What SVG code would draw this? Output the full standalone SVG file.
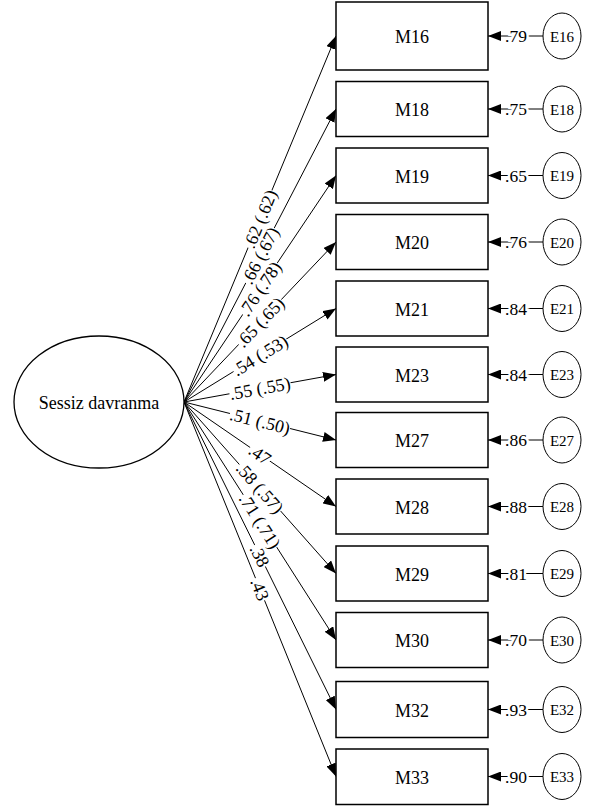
<svg xmlns="http://www.w3.org/2000/svg" width="590" height="809" viewBox="0 0 590 809">
  <defs>
    <marker id="arrow" markerUnits="userSpaceOnUse" markerWidth="13" markerHeight="10" refX="13" refY="5" orient="auto">
      <path d="M0,0 L13,5 L0,10 z" fill="#000"/>
    </marker>
    <style>
      text { font-family: "Liberation Serif", "Times New Roman", serif; fill: #000; }
      .box { fill: #fff; stroke: #000; stroke-width: 1.5; }
      .latent { fill: #fff; stroke: #000; stroke-width: 1.3; }
      .err { fill: #fff; stroke: #000; stroke-width: 1; }
      .path { stroke: #000; stroke-width: 1; fill: none; marker-end: url(#arrow); }
      .lbl { font-size: 18px; text-anchor: middle; }
      .bg { fill: #fff; }
      .coef { font-size: 18px; text-anchor: middle; }
      .ev { font-size: 17.5px; text-anchor: middle; stroke: #fff; stroke-width: 5; paint-order: stroke; }
      .elbl { font-size: 15px; text-anchor: middle; }
    </style>
  </defs>

  <!-- connectors: loadings from the factor, error terms into indicators -->
  <g id="connectors">
    <line class="path" x1="184" y1="402" x2="336" y2="36"/>
    <line class="path" x1="184" y1="402" x2="336" y2="109"/>
    <line class="path" x1="184" y1="402" x2="336" y2="175.5"/>
    <line class="path" x1="184" y1="402" x2="336" y2="242"/>
    <line class="path" x1="184" y1="402" x2="336" y2="308.5"/>
    <line class="path" x1="184" y1="402" x2="336" y2="374.5"/>
    <line class="path" x1="184" y1="402" x2="336" y2="440"/>
    <line class="path" x1="184" y1="402" x2="336" y2="506.5"/>
    <line class="path" x1="184" y1="402" x2="336" y2="573.5"/>
    <line class="path" x1="184" y1="402" x2="336" y2="640"/>
    <line class="path" x1="184" y1="402" x2="336" y2="709.5"/>
    <line class="path" x1="184" y1="402" x2="336" y2="776.5"/>

    <line class="path" x1="543" y1="36" x2="488" y2="36"/>
    <line class="path" x1="543" y1="109" x2="488" y2="109"/>
    <line class="path" x1="543" y1="175.5" x2="488" y2="175.5"/>
    <line class="path" x1="543" y1="242" x2="488" y2="242"/>
    <line class="path" x1="543" y1="308.5" x2="488" y2="308.5"/>
    <line class="path" x1="543" y1="374.5" x2="488" y2="374.5"/>
    <line class="path" x1="543" y1="440" x2="488" y2="440"/>
    <line class="path" x1="543" y1="506.5" x2="488" y2="506.5"/>
    <line class="path" x1="543" y1="573.5" x2="488" y2="573.5"/>
    <line class="path" x1="543" y1="640" x2="488" y2="640"/>
    <line class="path" x1="543" y1="709.5" x2="488" y2="709.5"/>
    <line class="path" x1="543" y1="776.5" x2="488" y2="776.5"/>

    <!-- loading labels, set along each path on a white ground -->
    <g transform="translate(260,219) rotate(-67.45)"><rect class="bg" x="-31" y="-8" width="62" height="16"/><text class="coef" dy="0.35em">.62 (.62)</text></g>
    <g transform="translate(260,255.5) rotate(-62.58)"><rect class="bg" x="-31" y="-8" width="62" height="16"/><text class="coef" dy="0.35em">.66 (.67)</text></g>
    <g transform="translate(260,288.75) rotate(-56.13)"><rect class="bg" x="-31" y="-8" width="62" height="16"/><text class="coef" dy="0.35em">.76 (.78)</text></g>
    <g transform="translate(260,322) rotate(-46.47)"><rect class="bg" x="-31" y="-8" width="62" height="16"/><text class="coef" dy="0.35em">.65 (.65)</text></g>
    <g transform="translate(260,355.25) rotate(-31.6)"><rect class="bg" x="-31" y="-8" width="62" height="16"/><text class="coef" dy="0.35em">.54 (.53)</text></g>
    <g transform="translate(260,388.25) rotate(-10.25)"><rect class="bg" x="-31" y="-8" width="62" height="16"/><text class="coef" dy="0.35em">.55 (.55)</text></g>
    <g transform="translate(260,421) rotate(14.04)"><rect class="bg" x="-31" y="-8" width="62" height="16"/><text class="coef" dy="0.35em">.51 (.50)</text></g>
    <g transform="translate(260,454.25) rotate(34.51)"><rect class="bg" x="-12" y="-7" width="24" height="14"/><text class="coef" dy="0.35em">.47</text></g>
    <g transform="translate(260,487.75) rotate(48.45)"><rect class="bg" x="-31" y="-8" width="62" height="16"/><text class="coef" dy="0.35em">.58 (.57)</text></g>
    <g transform="translate(260,521) rotate(57.43)"><rect class="bg" x="-31" y="-8" width="62" height="16"/><text class="coef" dy="0.35em">.71 (.71)</text></g>
    <g transform="translate(260,555.75) rotate(63.69)"><rect class="bg" x="-12" y="-7" width="24" height="14"/><text class="coef" dy="0.35em">.38</text></g>
    <g transform="translate(260,589.25) rotate(67.91)"><rect class="bg" x="-12" y="-7" width="24" height="14"/><text class="coef" dy="0.35em">.43</text></g>

    <!-- error loading labels -->
    <text class="ev" x="516" y="42">.79</text>
    <text class="ev" x="516" y="115">.75</text>
    <text class="ev" x="516" y="181.5">.65</text>
    <text class="ev" x="516" y="248">.76</text>
    <text class="ev" x="516" y="314.5">.84</text>
    <text class="ev" x="516" y="380.5">.84</text>
    <text class="ev" x="516" y="446">.86</text>
    <text class="ev" x="516" y="512.5">.88</text>
    <text class="ev" x="516" y="579.5">.81</text>
    <text class="ev" x="516" y="646">.70</text>
    <text class="ev" x="516" y="715.5">.93</text>
    <text class="ev" x="516" y="782.5">.90</text>
  </g>

  <!-- latent factor -->
  <g id="sessiz-davranma">
    <ellipse class="latent" cx="99" cy="402" rx="85" ry="66"/>
    <text class="lbl" x="99" y="409">Sessiz davranma</text>
  </g>

  <!-- observed indicators -->
  <g id="M16"><rect class="box" x="336" y="2" width="152" height="68"/><text class="lbl" x="412" y="43">M16</text></g>
  <g id="M18"><rect class="box" x="336" y="81.5" width="152" height="55"/><text class="lbl" x="412" y="116">M18</text></g>
  <g id="M19"><rect class="box" x="336" y="148" width="152" height="55"/><text class="lbl" x="412" y="182.5">M19</text></g>
  <g id="M20"><rect class="box" x="336" y="214.5" width="152" height="55"/><text class="lbl" x="412" y="249">M20</text></g>
  <g id="M21"><rect class="box" x="336" y="281" width="152" height="55"/><text class="lbl" x="412" y="315.5">M21</text></g>
  <g id="M23"><rect class="box" x="336" y="347" width="152" height="55"/><text class="lbl" x="412" y="381.5">M23</text></g>
  <g id="M27"><rect class="box" x="336" y="412.5" width="152" height="55"/><text class="lbl" x="412" y="447">M27</text></g>
  <g id="M28"><rect class="box" x="336" y="479" width="152" height="55"/><text class="lbl" x="412" y="513.5">M28</text></g>
  <g id="M29"><rect class="box" x="336" y="546" width="152" height="55"/><text class="lbl" x="412" y="580.5">M29</text></g>
  <g id="M30"><rect class="box" x="336" y="612.5" width="152" height="55"/><text class="lbl" x="412" y="647">M30</text></g>
  <g id="M32"><rect class="box" x="336" y="681.5" width="152" height="56"/><text class="lbl" x="412" y="716.5">M32</text></g>
  <g id="M33"><rect class="box" x="336" y="749" width="152" height="55.5"/><text class="lbl" x="412" y="783.5">M33</text></g>

  <!-- error terms -->
  <g id="E16"><ellipse class="err" cx="562" cy="36" rx="19" ry="23"/><text class="elbl" x="562" y="41.5">E16</text></g>
  <g id="E18"><ellipse class="err" cx="562" cy="109" rx="19" ry="23"/><text class="elbl" x="562" y="114.5">E18</text></g>
  <g id="E19"><ellipse class="err" cx="562" cy="175.5" rx="19" ry="23"/><text class="elbl" x="562" y="181">E19</text></g>
  <g id="E20"><ellipse class="err" cx="562" cy="242" rx="19" ry="23"/><text class="elbl" x="562" y="247.5">E20</text></g>
  <g id="E21"><ellipse class="err" cx="562" cy="308.5" rx="19" ry="23"/><text class="elbl" x="562" y="314">E21</text></g>
  <g id="E23"><ellipse class="err" cx="562" cy="374.5" rx="19" ry="23"/><text class="elbl" x="562" y="380">E23</text></g>
  <g id="E27"><ellipse class="err" cx="562" cy="440" rx="19" ry="23"/><text class="elbl" x="562" y="445.5">E27</text></g>
  <g id="E28"><ellipse class="err" cx="562" cy="506.5" rx="19" ry="23"/><text class="elbl" x="562" y="512">E28</text></g>
  <g id="E29"><ellipse class="err" cx="562" cy="573.5" rx="19" ry="23"/><text class="elbl" x="562" y="579">E29</text></g>
  <g id="E30"><ellipse class="err" cx="562" cy="640" rx="19" ry="23"/><text class="elbl" x="562" y="645.5">E30</text></g>
  <g id="E32"><ellipse class="err" cx="562" cy="709.5" rx="19" ry="23"/><text class="elbl" x="562" y="715">E32</text></g>
  <g id="E33"><ellipse class="err" cx="562" cy="776.5" rx="19" ry="23"/><text class="elbl" x="562" y="782">E33</text></g>
</svg>
